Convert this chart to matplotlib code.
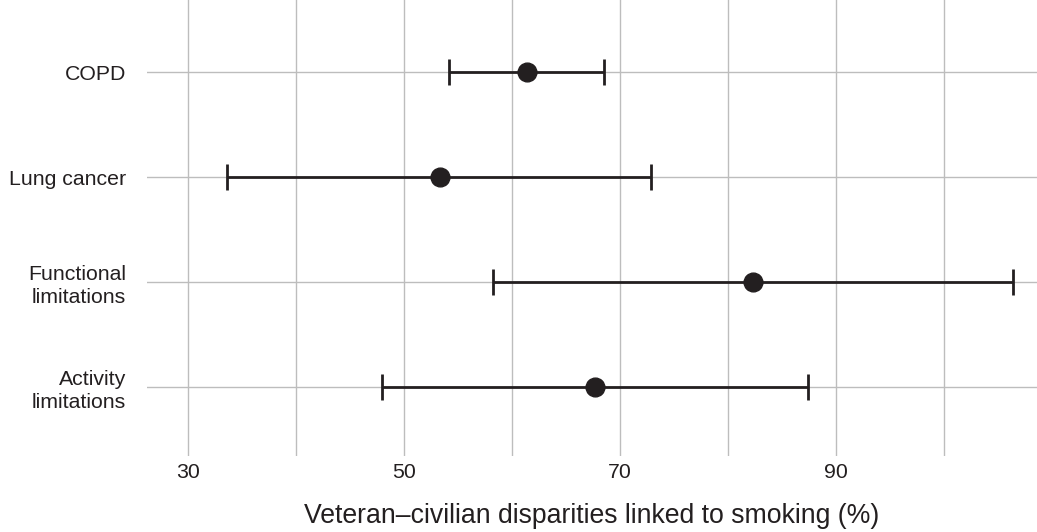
import matplotlib
matplotlib.use('Agg')
import matplotlib.pyplot as plt
from matplotlib.ticker import FixedLocator

plt.rcParams['font.family'] = ['Liberation Sans', 'DejaVu Sans']

# share of veteran-civilian disparity attributable to smoking
outcomes = ['COPD', 'Lung cancer', 'Functional\nlimitations', 'Activity\nlimitations']
estimate = [61.4, 53.3, 82.3, 67.7]
ci_low = [54.2, 33.6, 58.2, 48.0]
ci_high = [68.5, 72.9, 106.4, 87.4]

major_ticks = [30, 50, 70, 90]
minor_ticks = [40, 60, 80, 100]

ink = '#231f20'
grid_col = '#bdbdbd'

fig = plt.figure(figsize=(10.37, 5.32), dpi=100)
ax = fig.add_axes([147 / 1037, 76 / 532, 890 / 1037, 456 / 532])

ypos = list(range(len(outcomes)))
err_lo = [e - l for e, l in zip(estimate, ci_low)]
err_hi = [h - e for e, h in zip(estimate, ci_high)]

ax.errorbar(estimate, ypos, xerr=[err_lo, err_hi], fmt='o', color=ink,
            markersize=13.5, elinewidth=2, capsize=9.5, capthick=2, zorder=3)

ax.set_xlim(26.2, 108.6)
ax.set_ylim(3.66, -0.69)

ax.xaxis.set_major_locator(FixedLocator(major_ticks))
ax.xaxis.set_minor_locator(FixedLocator(minor_ticks))
ax.set_xticklabels([str(t) for t in major_ticks])
ax.set_yticks(ypos)
ax.set_yticklabels(outcomes, ha='right', linespacing=1.3)

ax.grid(True, which='both', axis='x', color=grid_col, linewidth=1)
ax.grid(True, which='major', axis='y', color=grid_col, linewidth=1)
ax.set_axisbelow(True)

ax.tick_params(axis='both', which='both', length=0, colors=ink, labelsize=15.3)
ax.tick_params(axis='x', pad=5)
ax.tick_params(axis='y', pad=15)

for side in ax.spines.values():
    side.set_visible(False)

ax.set_xlabel('Veteran\u2013civilian disparities linked to smoking (%)',
              fontsize=19.2, color=ink, labelpad=15)

fig.savefig('out.png', dpi=100)
